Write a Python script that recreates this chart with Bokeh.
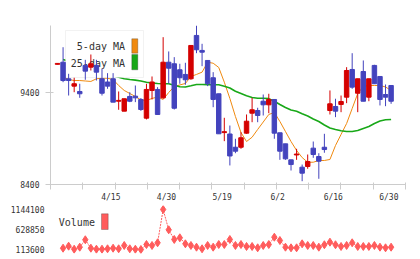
import numpy as np
from bokeh.plotting import figure
from bokeh.layouts import column
from bokeh.models import (ColumnDataSource, Range1d, FixedTicker, BoxAnnotation,
                          Label, BasicTickFormatter)
from bokeh.embed import file_html
from bokeh.resources import INLINE

# ---------------- data ----------------
title_text = "1959 06/30 16:56 updated."
credit_text = "(C)https://www.rizumu.net/"
date_labels = ["4/15", "4/30", "5/19", "6/2", "6/16", "6/30"]
date_label_idx = [10, 20, 30, 40, 50, 60]

opens = [9706, 9729, 9549, 9469, 9411, 9694, 9675, 9694, 9549, 9514,
         9549, 9305, 9197, 9357, 9360, 9324, 9121, 9422, 9433, 9342,
         9729, 9712, 9647, 9596, 9549, 10020, 9857, 9748, 9560, 9386,
         8964, 8949, 8805, 8805, 8958, 9175, 9204, 9305, 9266, 9324,
         8962, 8842, 8668, 8721, 8588, 8596, 8795, 8704, 8805, 9204,
         9248, 9270, 9349, 9650, 9392, 9628, 9349, 9694, 9574, 9378,
         9476]
highs = [9716, 9892, 9603, 9560, 9495, 9755, 9813, 9755, 9658, 9610,
         9610, 9411, 9332, 9403, 9476, 9340, 9495, 9574, 9458, 10001,
         9846, 9784, 9712, 9723, 9911, 10128, 9929, 9748, 9621, 9386,
         9125, 9041, 8897, 8969, 9161, 9342, 9234, 9378, 9386, 9324,
         8962, 8842, 8668, 8788, 8617, 8726, 8867, 8740, 8951, 9422,
         9332, 9367, 9675, 9827, 9549, 9748, 9549, 9701, 9574, 9487,
         9476]
lows = [9706, 9512, 9367, 9403, 9342, 9538, 9639, 9530, 9367, 9440,
        9295, 9212, 9197, 9295, 9295, 9200, 9107, 9324, 9161, 9332,
        9495, 9215, 9495, 9484, 9538, 9827, 9686, 9469, 9240, 8951,
        8871, 8607, 8740, 8788, 8951, 9077, 9077, 9150, 9175, 8897,
        8668, 8668, 8552, 8668, 8436, 8571, 8690, 8462, 8745, 9161,
        9132, 9186, 9284, 9440, 9186, 9305, 9305, 9495, 9259, 9251,
        9277]
closes = [9716, 9530, 9530, 9495, 9386, 9632, 9712, 9621, 9392, 9469,
          9295, 9314, 9332, 9305, 9342, 9215, 9433, 9514, 9161, 9729,
          9664, 9229, 9560, 9538, 9911, 9864, 9838, 9495, 9324, 8951,
          8974, 8710, 8762, 8908, 9088, 9212, 9150, 9266, 9324, 8958,
          8762, 8679, 8617, 8731, 8523, 8650, 8726, 8653, 8780, 9277,
          9197, 9302, 9639, 9458, 9549, 9305, 9549, 9495, 9324, 9349,
          9305]
ma5 = [np.nan, 9569, 9541, 9530, 9530, 9525, 9520, 9549, 9555, 9555,
       9541, 9476, 9422, 9389, 9357, 9319, 9313, 9335, 9351, 9324,
       9400, 9465, 9482, 9498, 9574, 9596, 9621, 9729, 9718, 9672,
       9512, 9335, 9139, 8965, 8867, 8914, 8998, 9079, 9161, 9183,
       9085, 8976, 8867, 8770, 8693, 8642, 8642, 8661, 8661, 8672,
       8824, 8944, 9063, 9226, 9389, 9465, 9476, 9476, 9476, 9460,
       9422]
ma25 = [np.nan, 9759, 9741, 9722, 9704, 9683, 9661, 9640, 9622, 9601,
        9583, 9566, 9549, 9541, 9534, 9525, 9512, 9503, 9498, 9495,
        9495, 9478, 9462, 9460, 9473, 9487, 9487, 9485, 9484, 9484,
        9467, 9449, 9414, 9389, 9364, 9346, 9338, 9337, 9333, 9304,
        9270, 9237, 9210, 9196, 9169, 9145, 9112, 9085, 9047, 9014,
        8998, 8984, 8976, 8976, 8987, 9009, 9030, 9063, 9090, 9103,
        9107]
volumes = [np.nan, 147300, 199100, 121400, 173200, 364100, 147300, 121400, 121400, 132100,
           147300, 132100, 217400, 132100, 121400, 113600, 242100, 217400, 286300, 1144100,
           621200, 371700, 415200, 260300, 217400, 173200, 132100, 217400, 173200, 242100,
           242100, 371700, 217400, 242100, 191300, 191300, 157400, 217400, 242100, 430400,
           345800, 173200, 157400, 157400, 260300, 217400, 217400, 173200, 235600, 302500,
           235600, 191300, 217400, 286300, 191300, 191300, 191300, 217400, 173200, 157400,
           173200]

# ---------------- style ----------------
FONT = "DejaVu Sans Mono"
RED = "#d40000"
BLUE = "#4343bd"
ORANGE = "#f08a10"
GREEN = "#18a818"
VOLC = "#ff5c5c"
AXC = "#cccccc"
TXT = "#333333"

o = np.array(opens, float)
c = np.array(closes, float)
idx = np.arange(len(opens))
src = ColumnDataSource(dict(
    x=idx, h=highs, l=lows,
    top=np.maximum(o, c), bottom=np.minimum(o, c),
    color=[RED if cc > oo else BLUE for oo, cc in zip(o, c)],
))

XL, XR = -1.26, 62.59
p = figure(width=420, height=205, x_range=Range1d(XL, XR),
           y_range=Range1d(8400, max(highs)),
           output_backend="svg", toolbar_location=None,
           min_border_left=50, min_border_right=15,
           min_border_top=25, min_border_bottom=21)
p.grid.visible = False
p.outline_line_color = None
p.background_fill_color = "white"
p.border_fill_color = "white"

# MA lines (drawn below the legend box)
r5 = p.line(idx, ma5, line_color=ORANGE, line_width=1)
r25 = p.line(idx, ma25, line_color=GREEN, line_width=1.6)
r5.level = "image"
r25.level = "image"

# legend box (covers lines, under candles)
p.add_layout(BoxAnnotation(left=15, right=93, top=154, bottom=107,
                           left_units="screen", right_units="screen",
                           top_units="screen", bottom_units="screen",
                           fill_color="white", fill_alpha=1.0,
                           line_color="#d4d4d4", line_width=1, level="underlay"))
for txt, ty, col, bt, bb in [("5-day MA", 138.5, ORANGE, 145.7, 131.3),
                             ("25-day MA", 121.5, GREEN, 130.0, 114.7)]:
    p.add_layout(Label(x=74.5, y=ty, x_units="screen", y_units="screen", text=txt,
                       text_align="right", text_baseline="middle",
                       text_font=FONT, text_font_size="10px", text_color=TXT,
                       level="underlay"))
    p.add_layout(BoxAnnotation(left=81.3, right=87.3, top=bt, bottom=bb,
                               left_units="screen", right_units="screen",
                               top_units="screen", bottom_units="screen",
                               fill_color=col, fill_alpha=1.0,
                               line_color="#333333", line_width=1, level="underlay"))

# candles
p.segment(x0="x", y0="l", x1="x", y1="h", line_color="color", line_width=1, source=src)
p.vbar(x="x", width=0.8, top="top", bottom="bottom", fill_color="color",
       line_color="color", line_width=1, source=src)

# header texts
p.add_layout(Label(x=-45, y=171.3, x_units="screen", y_units="screen", text=title_text,
                   text_align="left", text_baseline="middle", text_font=FONT,
                   text_font_size="10px", text_color=TXT))
p.add_layout(Label(x=361, y=171.3, x_units="screen", y_units="screen", text=credit_text,
                   text_align="right", text_baseline="middle", text_font=FONT,
                   text_font_size="10px", text_color=TXT))

# axes
label_ticks = [round(i - 0.4, 2) for i in date_label_idx]
p.xaxis.ticker = FixedTicker(ticks=label_ticks,
                             minor_ticks=[float(v) for v in np.linspace(XL, XR, 12)])
p.xaxis.major_label_overrides = {t: s for t, s in zip(label_ticks, date_labels)}
p.xaxis.axis_line_color = AXC
p.xaxis.major_tick_line_color = None
p.xaxis.major_tick_out = 5
p.xaxis.major_tick_in = 0
p.xaxis.major_label_standoff = 3
p.xaxis.minor_tick_line_color = AXC
p.xaxis.minor_tick_in = 2
p.xaxis.minor_tick_out = 5
p.xaxis.major_label_text_font = FONT
p.xaxis.major_label_text_font_size = "8px"
p.xaxis.major_label_text_color = TXT

p.yaxis.ticker = FixedTicker(ticks=[8400, 9400], minor_ticks=[])
p.yaxis.axis_line_color = AXC
p.yaxis.major_tick_line_color = AXC
p.yaxis.major_tick_in = 3
p.yaxis.major_tick_out = 5
p.yaxis.major_label_standoff = 6
p.yaxis.major_label_text_font = FONT
p.yaxis.major_label_text_font_size = "8px"
p.yaxis.major_label_text_color = TXT

# ---------------- volume panel ----------------
vmin = float(np.nanmin(volumes))
vmax = float(np.nanmax(volumes))
vmid = (vmin + vmax) / 2
pad = (vmax - vmin) * 4 / 40
p2 = figure(width=420, height=54, x_range=p.x_range,
            y_range=Range1d(vmin - pad, vmax + pad), x_axis_location=None,
            output_backend="svg", toolbar_location=None,
            min_border_left=50, min_border_right=15,
            min_border_top=0, min_border_bottom=6)
p2.grid.visible = False
p2.outline_line_color = None
p2.line(idx, volumes, line_color=VOLC, line_width=1, line_dash="2 1")
p2.scatter(idx, volumes, marker="diamond", size=8, fill_color=VOLC, line_color=VOLC)

p2.yaxis.ticker = FixedTicker(ticks=[vmin, vmid, vmax], minor_ticks=[])
p2.yaxis.formatter = BasicTickFormatter(use_scientific=False)
p2.yaxis.axis_line_color = None
p2.yaxis.major_tick_line_color = None
p2.yaxis.major_tick_in = 0
p2.yaxis.major_tick_out = 0
p2.yaxis.major_label_standoff = 6
p2.yaxis.major_label_text_font = FONT
p2.yaxis.major_label_text_font_size = "8px"
p2.yaxis.major_label_text_color = TXT

p2.add_layout(Label(x=8.3, y=31, x_units="screen", y_units="screen", text="Volume",
                    text_align="left", text_baseline="middle", text_font=FONT,
                    text_font_size="10px", text_color=TXT))
p2.add_layout(BoxAnnotation(left=51, right=57.7, top=39.7, bottom=24,
                            left_units="screen", right_units="screen",
                            top_units="screen", bottom_units="screen",
                            fill_color=VOLC, fill_alpha=1.0,
                            line_color="#333333", line_width=1))

layout = column(p, p2, spacing=0)
open("out.html", "w").write(file_html(layout, INLINE))
